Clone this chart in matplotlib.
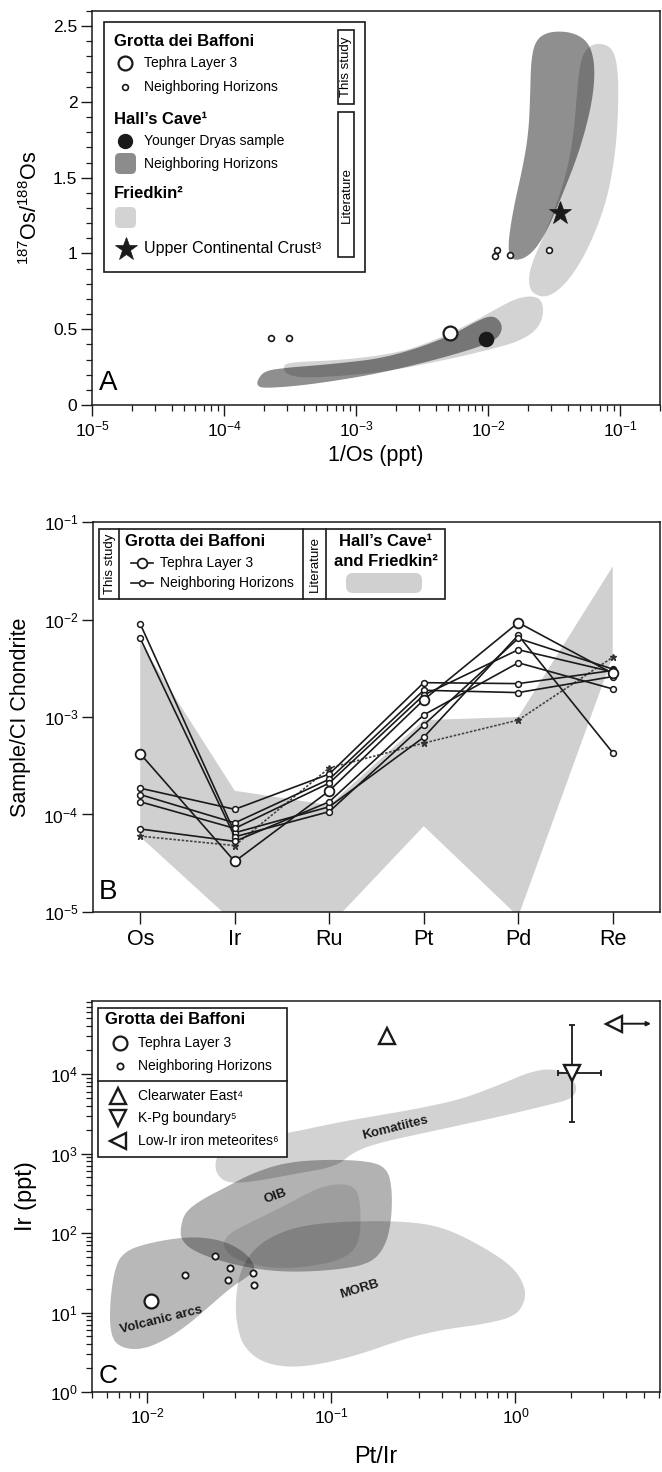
import numpy as np
import matplotlib
matplotlib.use("Agg")
import matplotlib.pyplot as plt
import matplotlib.transforms as mtransforms
from matplotlib.patches import Rectangle, FancyBboxPatch
from matplotlib.lines import Line2D
from matplotlib.ticker import FixedLocator, MultipleLocator, LogLocator, NullFormatter, NullLocator, FuncFormatter

plt.rcParams['font.family'] = ['Liberation Sans', 'DejaVu Sans']
plt.rcParams['mathtext.fontset'] = 'custom'
plt.rcParams['mathtext.rm'] = 'Liberation Sans'
plt.rcParams['mathtext.it'] = 'Liberation Sans:italic'
plt.rcParams['mathtext.bf'] = 'Liberation Sans:bold'
plt.rcParams['mathtext.default'] = 'regular'
plt.rcParams['axes.linewidth'] = 1.1

# ======================= DATA =======================
# ---- Panel A : 187Os/188Os vs 1/Os ----
a_tephra_inv_os = [5.1e-3]
a_tephra_ratio = [0.475]
a_neigh_inv_os = [2.27e-4, 3.1e-4, 0.0113, 0.0117, 0.0147, 0.029]
a_neigh_ratio = [0.44, 0.44, 0.98, 1.02, 0.99, 1.02]
a_yd_inv_os = [9.7e-3]
a_yd_ratio = [0.436]
a_ucc_inv_os = [0.035]
a_ucc_ratio = [1.27]

# field outlines: log10(1/Os) and 187Os/188Os
halls_low_logx = [-3.748, -3.693, -3.527, -3.362, -3.087, -2.811, -2.536, -2.261, -2.095, -1.971,
                  -1.902, -1.894, -1.957, -2.261, -2.811, -3.362, -3.693, -3.748]
halls_low_y = [0.165, 0.226, 0.246, 0.257, 0.279, 0.308, 0.374, 0.467, 0.550, 0.594,
               0.550, 0.484, 0.418, 0.330, 0.209, 0.132, 0.110, 0.125]
halls_up_logx = [-1.842, -1.847, -1.806, -1.737, -1.695, -1.682, -1.676, -1.640, -1.544, -1.379,
                 -1.255, -1.200, -1.194, -1.236, -1.324, -1.434, -1.539, -1.627, -1.709, -1.792]
halls_up_y = [0.979, 1.089, 1.309, 1.573, 1.793, 2.035, 2.277, 2.409, 2.464, 2.464,
              2.409, 2.299, 2.123, 1.903, 1.639, 1.397, 1.177, 1.045, 0.975, 0.953]
friedkin_low_logx = [-3.555, -3.514, -3.087, -2.673, -2.398, -2.123, -1.902, -1.764, -1.640, -1.585,
                     -1.585, -1.646, -1.764, -1.902, -2.261, -2.811, -3.362, -3.527]
friedkin_low_y = [0.253, 0.282, 0.297, 0.345, 0.429, 0.543, 0.653, 0.711, 0.719, 0.675,
                  0.572, 0.484, 0.424, 0.385, 0.308, 0.213, 0.176, 0.198]
friedkin_up_logx = [-1.682, -1.695, -1.660, -1.585, -1.489, -1.406, -1.351, -1.324, -1.296, -1.227,
                    -1.131, -1.048, -1.015, -1.015, -1.034, -1.089, -1.172, -1.269, -1.379, -1.489, -1.585]
friedkin_up_y = [0.748, 0.847, 0.957, 1.100, 1.309, 1.529, 1.793, 2.101, 2.299, 2.376,
                 2.387, 2.343, 2.189, 1.947, 1.683, 1.397, 1.177, 0.990, 0.836, 0.741, 0.708]

# ---- Panel B : Sample / CI chondrite ----
elements = ['Os', 'Ir', 'Ru', 'Pt', 'Pd', 'Re']
b_tephra = [4.2e-4, 3.3e-5, 1.75e-4, 1.5e-3, 9.3e-3, 2.8e-3]
b_neigh_1 = [9.0e-3, 6.5e-5, 1.2e-4, 6.2e-4, 6.9e-3, 4.3e-4]
b_neigh_2 = [6.4e-3, 5.9e-5, 1.07e-4, 8.3e-4, 6.4e-3, 3.1e-3]
b_neigh_3 = [1.86e-4, 1.13e-4, 2.6e-4, 2.25e-3, 2.2e-3, 3.0e-3]
b_neigh_4 = [1.6e-4, 8.2e-5, 2.3e-4, 1.88e-3, 1.78e-3, 2.6e-3]
b_neigh_5 = [1.35e-4, 7.2e-5, 2.1e-4, 1.68e-3, 4.9e-3, 2.9e-3]
b_neigh_6 = [7.1e-5, 5.3e-5, 1.35e-4, 1.05e-3, 3.6e-3, 1.94e-3]
b_ucc = [6.0e-5, 4.8e-5, 3.0e-4, 5.4e-4, 9.3e-4, 4.1e-3]
b_lit_upper = [5.8e-3, 1.75e-4, 1.25e-4, 9.3e-4, 1.0e-3, 3.5e-2]
b_lit_lower = [5.9e-5, 7.7e-6, 7.2e-6, 7.6e-5, 9.0e-6, 4.2e-3]

# ---- Panel C : Ir vs Pt/Ir ----
c_tephra_ptir = [0.0105]
c_tephra_ir = [14.0]
c_neigh_ptir = [0.016, 0.0233, 0.028, 0.0273, 0.0377, 0.038]
c_neigh_ir = [29.3, 52.0, 35.9, 25.5, 31.2, 22.5]
c_clearwater_ptir = [0.20]
c_clearwater_ir = [3.0e4]
c_kpg_ptir = [2.02]
c_kpg_ir = [1.02e4]
c_kpg_ptir_range = [1.70, 2.90]
c_kpg_ir_range = [2.5e3, 4.1e4]
c_lowir_ptir = [3.43]
c_lowir_ir = [4.3e4]
c_lowir_arrow_end = 5.45

# field outlines: log10(Pt/Ir), log10(Ir)
komatiites_logx = [-1.633, -1.592, -1.385, -1.202, -0.973, -0.743, -0.514, -0.285, -0.055, 0.059, 0.174,
                   0.277, 0.339, 0.312, 0.174, -0.055, -0.285, -0.514, -0.743, -0.881, -0.973, -1.202,
                   -1.431, -1.569, -1.626]
komatiites_logy = [2.904, 3.088, 3.204, 3.273, 3.388, 3.480, 3.573, 3.688, 3.895, 4.010, 4.070,
                   4.024, 3.849, 3.688, 3.609, 3.480, 3.365, 3.250, 3.135, 3.019, 2.835, 2.743,
                   2.642, 2.628, 2.743]
oib_logx = [-1.821, -1.798, -1.706, -1.569, -1.431, -1.248, -1.018, -0.789, -0.697, -0.670, -0.674,
            -0.709, -0.789, -0.973, -1.202, -1.385, -1.592, -1.752, -1.816]
oib_logy = [2.052, 2.259, 2.420, 2.582, 2.752, 2.890, 2.927, 2.904, 2.812, 2.559, 2.144,
            1.821, 1.614, 1.536, 1.508, 1.536, 1.637, 1.775, 1.913]
oib_inner_logx = [-1.569, -1.431, -1.248, -1.064, -0.927, -0.853, -0.840, -0.846, -0.904, -1.064,
                  -1.316, -1.523, -1.592]
oib_inner_logy = [1.982, 2.144, 2.351, 2.582, 2.628, 2.536, 2.236, 1.913, 1.706, 1.591,
                  1.545, 1.660, 1.821]
morb_logx = [-1.523, -1.505, -1.454, -1.362, -1.202, -0.973, -0.629, -0.399, -0.170, -0.009, 0.055,
             0.048, -0.009, -0.170, -0.399, -0.606, -0.858, -1.087, -1.248, -1.385, -1.477, -1.511]
morb_logy = [1.084, 1.453, 1.706, 1.913, 2.075, 2.144, 2.153, 2.084, 1.821, 1.568, 1.314,
             1.107, 0.946, 0.854, 0.784, 0.669, 0.462, 0.337, 0.310, 0.383, 0.568, 0.807]
arcs_logx = [-2.199, -2.206, -2.176, -2.119, -2.004, -1.844, -1.706, -1.569, -1.454, -1.408,
             -1.454, -1.546, -1.660, -1.775, -1.890, -2.027, -2.142]
arcs_logy = [0.692, 1.084, 1.591, 1.775, 1.867, 1.936, 1.950, 1.890, 1.729, 1.545,
             1.453, 1.314, 1.084, 0.854, 0.669, 0.531, 0.554]
field_labels = ['Komatiites', 'OIB', 'MORB', 'Volcanic arcs']
field_label_ptir = [0.223, 0.0495, 0.1426, 0.0119]
field_label_ir = [2085, 292, 19.5, 8.1]
field_label_rot = [14, 20, 17, 14]

# ======================= HELPERS =======================
def smooth(xs, ys, n=4):
    p = np.column_stack([xs, ys]).astype(float)
    for _ in range(n):
        q = np.roll(p, -1, axis=0)
        a = 0.75 * p + 0.25 * q
        b = 0.25 * p + 0.75 * q
        r = np.empty((2 * len(p), 2))
        r[0::2] = a
        r[1::2] = b
        p = r
    return p[:, 0], p[:, 1]


def log_fmt(v, pos):
    e = int(round(np.log10(v)))
    return r'$10^{%d}$' % e


W, H = 662, 1472
fig = plt.figure(figsize=(W / 100, H / 100), dpi=100)
PX = mtransforms.Affine2D().scale(0.01, -0.01).translate(0, H / 100) + fig.dpi_scale_trans


def add_ax(l, t, r, b):
    return fig.add_axes([l / W, 1 - b / H, (r - l) / W, (b - t) / H])


def ptext(x, y, s, **kw):
    kw.setdefault('zorder', 7)
    fig.text(x, y, s, transform=PX, **kw)


def pmark(x, y, **kw):
    kw.setdefault('zorder', 7)
    fig.add_artist(Line2D([x], [y], transform=PX, **kw))


def pline(xs, ys, **kw):
    kw.setdefault('zorder', 7)
    fig.add_artist(Line2D(xs, ys, transform=PX, **kw))


def prect(x0, y0, x1, y1, **kw):
    kw.setdefault('zorder', 5)
    fig.add_artist(Rectangle((x0, y0), x1 - x0, y1 - y0, transform=PX, **kw))


def pround(x0, y0, x1, y1, r, **kw):
    kw.setdefault('zorder', 6)
    fig.add_artist(FancyBboxPatch((x0, y0), x1 - x0, y1 - y0,
                                  boxstyle='round,pad=0,rounding_size=%g' % r,
                                  transform=PX, **kw))


INK = '#1a1a1a'
LEG_FS = 10
HEAD_FS = 12
TICK_FS = 12.5
LAB_FS = 15.5

def style_ticks(ax):
    ax.tick_params(which='major', direction='out', length=8, width=1.0, labelsize=TICK_FS, pad=2.5, color=INK)
    ax.tick_params(which='minor', direction='out', length=4.5, width=0.9, color=INK)
    for s in ax.spines.values():
        s.set_color(INK)

# ======================= PANEL A =======================
axA = add_ax(92, 11, 660, 405)
axA.set_xscale('log')
axA.set_xlim(1e-5, 0.2)
axA.set_ylim(0, 2.6)

light = '#d3d3d3'
for lx, yy in [(friedkin_low_logx, friedkin_low_y), (friedkin_up_logx, friedkin_up_y)]:
    sx, sy = smooth(lx, yy)
    axA.fill(10 ** sx, sy, color=light, lw=0, zorder=1)
for lx, yy in [(halls_low_logx, halls_low_y), (halls_up_logx, halls_up_y)]:
    sx, sy = smooth(lx, yy)
    axA.fill(10 ** sx, sy, color='black', alpha=0.44, lw=0, zorder=2)

axA.plot(a_neigh_inv_os, a_neigh_ratio, ls='none', marker='o', ms=4.2, mfc='white', mec=INK, mew=1.2, zorder=4)
axA.plot(a_tephra_inv_os, a_tephra_ratio, ls='none', marker='o', ms=10, mfc='white', mec=INK, mew=1.6, zorder=5)
axA.plot(a_yd_inv_os, a_yd_ratio, ls='none', marker='o', ms=10, mfc=INK, mec=INK, mew=1.2, zorder=5)
axA.plot(a_ucc_inv_os, a_ucc_ratio, ls='none', marker='*', ms=17, mfc=INK, mec=INK, mew=0.5, zorder=5)

axA.yaxis.set_major_locator(FixedLocator([0, 0.5, 1, 1.5, 2, 2.5]))
axA.yaxis.set_major_formatter(FuncFormatter(lambda v, p: ('%g' % v)))
axA.yaxis.set_minor_locator(MultipleLocator(0.1))
axA.xaxis.set_major_locator(LogLocator(base=10, numticks=20))
axA.xaxis.set_minor_locator(LogLocator(base=10, subs=np.arange(2, 10), numticks=100))
axA.xaxis.set_major_formatter(FuncFormatter(log_fmt))
axA.xaxis.set_minor_formatter(NullFormatter())
style_ticks(axA)
axA.set_xlabel('1/Os (ppt)', fontsize=LAB_FS, labelpad=4)
axA.set_ylabel(r'$^{187}$Os/$^{188}$Os', fontsize=LAB_FS, labelpad=8)
ptext(99, 383, 'A', fontsize=20, ha='left', va='center')

# legend A
prect(104, 22, 365, 272, facecolor='white', edgecolor=INK, lw=1.2)
ptext(114, 42, 'Grotta dei Baffoni', fontsize=HEAD_FS, fontweight='bold', va='center')
pmark(125, 63, marker='o', ms=10, mfc='white', mec=INK, mew=1.6)
ptext(144, 63, 'Tephra Layer 3', fontsize=LEG_FS, va='center')
pmark(125, 87, marker='o', ms=4.2, mfc='white', mec=INK, mew=1.2)
ptext(144, 87, 'Neighboring Horizons', fontsize=LEG_FS, va='center')
ptext(114, 120, 'Hall’s Cave¹', fontsize=HEAD_FS, fontweight='bold', va='center')
pmark(125, 141, marker='o', ms=10, mfc=INK, mec=INK)
ptext(144, 141, 'Younger Dryas sample', fontsize=LEG_FS, va='center')
pround(115, 153, 136, 174, 5, facecolor='#8c8c8c', edgecolor='none')
ptext(144, 164, 'Neighboring Horizons', fontsize=LEG_FS, va='center')
ptext(114, 193, 'Friedkin²', fontsize=HEAD_FS, fontweight='bold', va='center')
pround(115, 207, 136, 228, 5, facecolor=light, edgecolor='none')
pmark(126, 249, marker='*', ms=17, mfc=INK, mec=INK, mew=0.5)
ptext(144, 249, 'Upper Continental Crust³', fontsize=11.5, va='center')
prect(338, 30, 354, 104, facecolor='white', edgecolor=INK, lw=1.2, zorder=6)
ptext(346.5, 67, 'This study', fontsize=9.5, rotation=90, ha='center', va='center')
prect(338, 112, 354, 257, facecolor='white', edgecolor=INK, lw=1.2, zorder=6)
ptext(346.5, 195, 'Literature', fontsize=9.5, rotation=90, ha='center', va='center')

# ======================= PANEL B =======================
axB = add_ax(93, 522, 660, 912)
axB.set_yscale('log')
axB.set_ylim(1e-5, 1e-1)
axB.set_xlim(-0.5, len(elements) - 0.5)
xpos = np.arange(len(elements))

axB.fill(np.concatenate([xpos, xpos[::-1]]), np.concatenate([b_lit_upper, b_lit_lower[::-1]]),
         color='#d0d0d0', lw=0, zorder=1)
axB.plot(xpos, b_ucc, color='#444444', ls=(0, (1.5, 1.0)), lw=1.2, marker='*', ms=5,
         mfc='#333333', mec='#333333', zorder=3)
for series in [b_neigh_1, b_neigh_2, b_neigh_3, b_neigh_4, b_neigh_5, b_neigh_6]:
    axB.plot(xpos, series, color=INK, lw=1.2, marker='o', ms=4.2, mfc='white', mec=INK, mew=1.1, zorder=4)
axB.plot(xpos, b_tephra, color=INK, lw=1.2, marker='o', ms=7, mfc='white', mec=INK, mew=1.3, zorder=5)

axB.set_xticks(xpos)
axB.set_xticklabels(elements)
axB.yaxis.set_major_locator(LogLocator(base=10, numticks=20))
axB.yaxis.set_minor_locator(NullLocator())
axB.yaxis.set_major_formatter(FuncFormatter(log_fmt))
style_ticks(axB)
axB.tick_params(axis='x', length=8.5, labelsize=15.5, pad=4)
axB.set_ylabel('Sample/CI Chondrite', fontsize=LAB_FS, labelpad=9)
ptext(99, 892, 'B', fontsize=20, ha='left', va='center')

# legend B
prect(99, 529, 445, 599, facecolor='white', edgecolor=INK, lw=1.2)
for xv in [119, 303, 326]:
    pline([xv, xv], [529, 599], color=INK, lw=1.2)
ptext(109.5, 564, 'This study', fontsize=9.5, rotation=90, ha='center', va='center')
ptext(125, 541, 'Grotta dei Baffoni', fontsize=HEAD_FS, fontweight='bold', va='center')
pline([131, 153], [563, 563], color=INK, lw=1.2)
pmark(142, 563, marker='o', ms=7, mfc='white', mec=INK, mew=1.3, zorder=8)
ptext(160, 563, 'Tephra Layer 3', fontsize=LEG_FS, va='center')
pline([131, 153], [583, 583], color=INK, lw=1.2)
pmark(142, 583, marker='o', ms=4.2, mfc='white', mec=INK, mew=1.1, zorder=8)
ptext(160, 583, 'Neighboring Horizons', fontsize=LEG_FS, va='center')
ptext(314.5, 564, 'Literature', fontsize=9.5, rotation=90, ha='center', va='center')
ptext(386, 542, 'Hall’s Cave¹', fontsize=HEAD_FS, fontweight='bold', ha='center', va='center')
ptext(386, 562, 'and Friedkin²', fontsize=HEAD_FS, fontweight='bold', ha='center', va='center')
pround(346, 573, 422, 593, 7, facecolor='#d0d0d0', edgecolor='none')

# ======================= PANEL C =======================
axC = add_ax(92, 1001, 660, 1392)
axC.set_xscale('log')
axC.set_yscale('log')
axC.set_xlim(5e-3, 6.1)
axC.set_ylim(1, 8.3e4)

for lx, ly, a in [(komatiites_logx, komatiites_logy, 0.175), (morb_logx, morb_logy, 0.175),
                  (arcs_logx, arcs_logy, 0.28), (oib_logx, oib_logy, 0.3),
                  (oib_inner_logx, oib_inner_logy, 0.11)]:
    sx, sy = smooth(lx, ly)
    axC.fill(10 ** sx, 10 ** sy, color='black', alpha=a, lw=0, zorder=1)

for s, xv, yv, rot in zip(field_labels, field_label_ptir, field_label_ir, field_label_rot):
    axC.text(xv, yv, s, fontsize=9.5, fontweight='bold', rotation=rot, rotation_mode='anchor',
             ha='center', va='center', color=INK, zorder=3)

axC.plot(c_neigh_ptir, c_neigh_ir, ls='none', marker='o', ms=4.5, mfc='white', mec=INK, mew=1.3, zorder=4)
axC.plot(c_tephra_ptir, c_tephra_ir, ls='none', marker='o', ms=10, mfc='white', mec=INK, mew=1.6, zorder=4)
axC.plot(c_clearwater_ptir, c_clearwater_ir, ls='none', marker='^', ms=12, mfc='white', mec=INK, mew=1.7, zorder=4)
kx = np.array(c_kpg_ptir)
ky = np.array(c_kpg_ir)
xerr = np.array([[kx[0] - c_kpg_ptir_range[0]], [c_kpg_ptir_range[1] - kx[0]]])
yerr = np.array([[ky[0] - c_kpg_ir_range[0]], [c_kpg_ir_range[1] - ky[0]]])
axC.errorbar(kx, ky, xerr=xerr, yerr=yerr, fmt='none', ecolor=INK, elinewidth=1.3, capsize=2.5,
             capthick=1.3, zorder=4)
axC.plot(kx, ky, ls='none', marker='v', ms=12, mfc='white', mec=INK, mew=1.7, zorder=5)
axC.plot(c_lowir_ptir, c_lowir_ir, ls='none', marker='<', ms=12, mfc='white', mec=INK, mew=1.7, zorder=5)
axC.annotate('', xy=(c_lowir_arrow_end, c_lowir_ir[0]), xytext=(c_lowir_ptir[0], c_lowir_ir[0]),
             arrowprops=dict(arrowstyle='-|>', lw=1.4, color=INK, mutation_scale=6,
                             shrinkA=6, shrinkB=0), zorder=5)

axC.xaxis.set_major_locator(LogLocator(base=10, numticks=20))
axC.xaxis.set_minor_locator(LogLocator(base=10, subs=np.arange(2, 10), numticks=100))
axC.xaxis.set_major_formatter(FuncFormatter(log_fmt))
axC.xaxis.set_minor_formatter(NullFormatter())
axC.yaxis.set_major_locator(LogLocator(base=10, numticks=20))
axC.yaxis.set_minor_locator(LogLocator(base=10, subs=np.arange(2, 10), numticks=100))
axC.yaxis.set_major_formatter(FuncFormatter(log_fmt))
axC.yaxis.set_minor_formatter(NullFormatter())
style_ticks(axC)
axC.set_xlabel('Pt/Ir', fontsize=17, labelpad=14)
axC.set_ylabel('Ir (ppt)', fontsize=17, labelpad=9)
ptext(99, 1376, 'C', fontsize=19, ha='left', va='center')

# legend C
prect(98, 1008, 287, 1157, facecolor='white', edgecolor=INK, lw=1.2)
pline([98, 287], [1081, 1081], color=INK, lw=1.2)
ptext(105, 1020, 'Grotta dei Baffoni', fontsize=HEAD_FS, fontweight='bold', va='center')
pmark(120, 1043, marker='o', ms=10, mfc='white', mec=INK, mew=1.6)
ptext(138, 1043, 'Tephra Layer 3', fontsize=LEG_FS, va='center')
pmark(120, 1066, marker='o', ms=4.5, mfc='white', mec=INK, mew=1.3)
ptext(138, 1066, 'Neighboring Horizons', fontsize=LEG_FS, va='center')
pmark(118, 1096, marker='^', ms=12, mfc='white', mec=INK, mew=1.7)
ptext(138, 1096, 'Clearwater East⁴', fontsize=LEG_FS, va='center')
pmark(118, 1118, marker='v', ms=12, mfc='white', mec=INK, mew=1.7)
ptext(138, 1118, 'K-Pg boundary⁵', fontsize=LEG_FS, va='center')
pmark(118, 1141, marker='<', ms=12, mfc='white', mec=INK, mew=1.7)
ptext(138, 1141, 'Low-Ir iron meteorites⁶', fontsize=LEG_FS, va='center')

fig.savefig('out.png', dpi=100)
